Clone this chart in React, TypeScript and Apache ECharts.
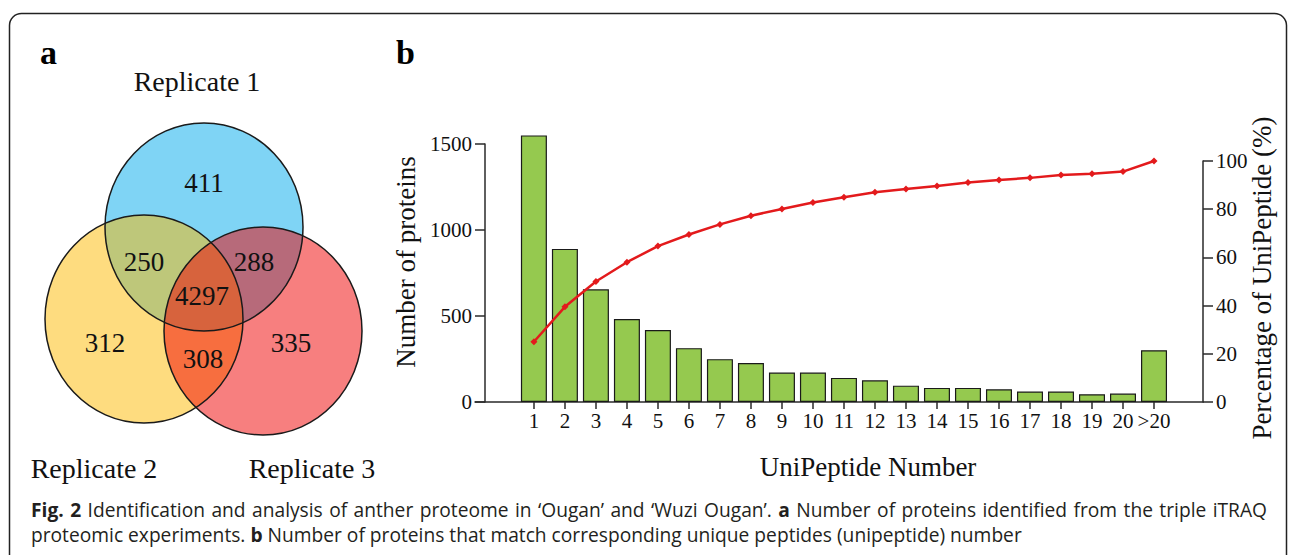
import React, { useEffect, useRef } from "react";
import * as echarts from "echarts";

// Panel b: unique-peptide bins, protein counts and cumulative share
const categories = ["1", "2", "3", "4", "5", "6", "7", "8", "9", "10", "11", "12", "13", "14", "15", "16", "17", "18", "19", "20", ">20"];
const proteinCounts = [1550, 890, 655, 482, 418, 313, 249, 227, 171, 171, 140, 126, 95, 82, 82, 74, 61, 61, 45, 49, 301];
const cumulativePercent = [25, 39.5, 50, 58, 64.7, 69.5, 73.7, 77.3, 80.1, 82.8, 85, 87, 88.4, 89.6, 91.1, 92.1, 93, 94.2, 94.7, 95.6, 100];

// Panel a: Venn region counts (R1 only, R1∩R2, R1∩R3, all three, R2 only, R2∩R3, R3 only)
const vennCounts = [411, 250, 288, 4297, 312, 308, 335];
const replicateNames = ["Replicate 1", "Replicate 2", "Replicate 3"];

// Caption, as words; a leading "*" marks a bold word
const captionLine1 =
  "*Fig. *2 Identification and analysis of anther proteome in \u2018Ougan\u2019 and \u2018Wuzi Ougan\u2019. *a Number of proteins identified from the triple iTRAQ";
const captionLine2 =
  "proteomic experiments. *b Number of proteins that match corresponding unique peptides (unipeptide) number";

const SERIF = "'Liberation Serif', 'Times New Roman', serif";
const SANS = "'Open Sans', 'Noto Sans', sans-serif";
const CAPTION_SIZE = 19.2;

// layout of the Venn diagram (circle geometry and label anchors)
const circleLayout = [
  { cx: 204, cy: 227, fill: "rgba(0,170,236,0.5)" },
  { cx: 144, cy: 319, fill: "rgba(253,186,0,0.5)" },
  { cx: 263, cy: 331, fill: "rgba(240,0,0,0.5)" },
];
const regionAnchors = [
  [204, 183],
  [144, 262],
  [254, 262],
  [202, 296],
  [105, 343],
  [203, 359],
  [291, 343],
];
const replicateAnchors = [
  [197, 81],
  [94, 468],
  [312, 468],
];

function measure(ctx: CanvasRenderingContext2D | null, text: string, bold: boolean) {
  if (!ctx) return text.length * CAPTION_SIZE * 0.52;
  ctx.font = `${bold ? "bold " : ""}${CAPTION_SIZE}px ${SANS}`;
  return ctx.measureText(text).width;
}

// Lays out one caption line word by word; when justify is set the gaps stretch to fill the width.
function captionWords(line: string, x0: number, y: number, width: number, justify: boolean) {
  const ctx = document.createElement("canvas").getContext("2d");
  const words = line.split(" ").map((w) => {
    const bold = w.startsWith("*");
    const text = bold ? w.slice(1) : w;
    return { text, bold, w: measure(ctx, text, bold) };
  });
  const space = measure(ctx, " ", false);
  const total = words.reduce((s, w) => s + w.w, 0);
  const gap = justify && words.length > 1 ? (width - total) / (words.length - 1) : space;
  const out: any[] = [];
  let x = x0;
  words.forEach((w) => {
    out.push({
      type: "text",
      x,
      y,
      style: {
        text: w.text,
        font: `${w.bold ? "bold " : ""}${CAPTION_SIZE}px ${SANS}`,
        fill: "#231f20",
        verticalAlign: "middle",
      },
    });
    x += w.w + gap;
  });
  return out;
}

export default function App() {
  const ref = useRef<HTMLDivElement>(null);

  useEffect(() => {
    if (!ref.current) return;
    const chart = echarts.init(ref.current, null, { renderer: "svg" });
    const axisColor = "#2a2a2a";
    const tickValues = categories.map((_, i) => i + 1);
    const xMin = -0.9;
    const xMax = 22.58;

    const graphics: any[] = [
      {
        type: "rect",
        shape: { x: 9.5, y: 13.5, width: 1277, height: 620, r: 12 },
        style: { fill: "none", stroke: "#222", lineWidth: 1.5 },
        silent: true,
      },
      { type: "text", x: 40, y: 69, style: { text: "a", font: `bold 34px ${SERIF}`, fill: "#000", verticalAlign: "bottom" } },
      { type: "text", x: 396, y: 69, style: { text: "b", font: `bold 34px ${SERIF}`, fill: "#000", verticalAlign: "bottom" } },
    ];

    circleLayout.forEach((c) => {
      graphics.push({
        type: "ellipse",
        shape: { cx: c.cx, cy: c.cy, rx: 99, ry: 104 },
        style: { fill: c.fill, stroke: "none" },
      });
    });
    circleLayout.forEach((c) => {
      graphics.push({
        type: "ellipse",
        shape: { cx: c.cx, cy: c.cy, rx: 99, ry: 104 },
        style: { fill: "none", stroke: "#1a1a1a", lineWidth: 1.5 },
      });
    });
    vennCounts.forEach((v, i) => {
      graphics.push({
        type: "text",
        x: regionAnchors[i][0],
        y: regionAnchors[i][1],
        style: { text: String(v), font: `27px ${SERIF}`, fill: "#111", align: "center", verticalAlign: "middle" },
      });
    });
    replicateNames.forEach((name, i) => {
      graphics.push({
        type: "text",
        x: replicateAnchors[i][0],
        y: replicateAnchors[i][1],
        style: { text: name, font: `28px ${SERIF}`, fill: "#111", align: "center", verticalAlign: "middle" },
      });
    });

    // axis titles of panel b
    graphics.push(
      {
        type: "text",
        x: 406,
        y: 262,
        rotation: Math.PI / 2,
        style: { text: "Number of proteins", font: `27px ${SERIF}`, fill: "#111", align: "center", verticalAlign: "middle" },
      },
      {
        type: "text",
        x: 1262,
        y: 278,
        rotation: Math.PI / 2,
        style: { text: "Percentage of UniPeptide (%)", font: `27px ${SERIF}`, fill: "#111", align: "center", verticalAlign: "middle" },
      },
      {
        type: "text",
        x: 868,
        y: 467,
        style: { text: "UniPeptide Number", font: `27px ${SERIF}`, fill: "#111", align: "center", verticalAlign: "middle" },
      }
    );

    // caption: first line justified to the full column width
    graphics.push(...captionWords(captionLine1, 31, 509, 1236, true));
    graphics.push(...captionWords(captionLine2, 31, 534, 1236, false));

    const axisLine = { show: true, onZero: false, lineStyle: { color: axisColor, width: 1.5 } };
    const labelStyle = { fontFamily: SERIF, fontSize: 21, color: "#111" };

    chart.setOption({
      animation: false,
      backgroundColor: "#fff",
      grid: [
        { left: 475, right: 87, top: 144, bottom: 153 },
        { left: 475, right: 87, top: 161, bottom: 153 },
      ],
      xAxis: [
        {
          type: "value",
          gridIndex: 0,
          min: xMin,
          max: xMax,
          axisLine,
          axisTick: { show: true, customValues: tickValues, length: 7, lineStyle: { color: axisColor, width: 1.5 } },
          axisLabel: {
            ...labelStyle,
            customValues: tickValues,
            margin: 8,
            formatter: (v: number) => categories[Math.round(v) - 1] ?? "",
          },
          splitLine: { show: false },
        },
        { type: "value", gridIndex: 1, min: xMin, max: xMax, show: false },
      ],
      yAxis: [
        {
          type: "value",
          gridIndex: 0,
          min: 0,
          max: 1500,
          interval: 500,
          offset: -10,
          axisLine,
          axisTick: { show: true, length: 10, lineStyle: { color: axisColor, width: 1.5 } },
          axisLabel: { ...labelStyle, margin: 13, formatter: (v: number) => String(v) },
          splitLine: { show: false },
        },
        {
          type: "value",
          gridIndex: 1,
          position: "right",
          min: 0,
          max: 100,
          interval: 20,
          axisLine,
          axisTick: { show: true, length: 10, lineStyle: { color: axisColor, width: 1.5 } },
          axisLabel: { ...labelStyle, margin: 13, formatter: (v: number) => String(v) },
          splitLine: { show: false },
        },
      ],
      series: [
        {
          type: "bar",
          xAxisIndex: 0,
          yAxisIndex: 0,
          barWidth: 26,
          clip: false,
          data: proteinCounts.map((v, i) => [i + 1, v]),
          itemStyle: { color: "#95c94f", borderColor: "#1a1a1a", borderWidth: 1.2 },
        },
        {
          type: "line",
          xAxisIndex: 1,
          yAxisIndex: 1,
          clip: false,
          data: cumulativePercent.map((v, i) => [i + 1, v]),
          symbol: "diamond",
          symbolSize: 7,
          lineStyle: { color: "#e31a1c", width: 2.5 },
          itemStyle: { color: "#e31a1c" },
        },
      ],
      graphic: graphics,
    });

    return () => chart.dispose();
  }, []);

  return <div ref={ref} style={{ position: "absolute", left: 0, top: 0, width: 1290, height: 555 }} />;
}
